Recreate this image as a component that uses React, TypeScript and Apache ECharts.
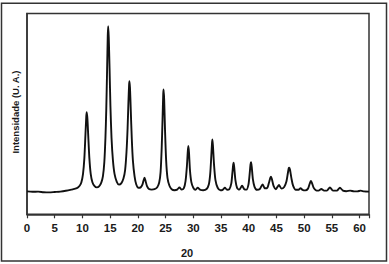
import React, { useEffect, useRef } from "react";
import * as echarts from "echarts";

const twoTheta = [
  0, 1, 2, 3, 4, 5, 6, 7, 8, 9, 9.5, 9.8, 10.1, 10.35, 10.55, 10.7, 10.78, 10.9, 11.05, 11.25, 11.5, 11.8,
  12.2, 12.6, 13.0, 13.4, 13.7, 13.95, 14.15, 14.3, 14.45, 14.57, 14.65, 14.75, 14.9, 15.05, 15.25, 15.5,
  15.8, 16.2, 16.6, 17.0, 17.4, 17.7, 17.95, 18.15, 18.3, 18.42, 18.48, 18.58, 18.72, 18.9, 19.1, 19.4,
  19.7, 20.1, 20.5, 20.8, 21.0, 21.2, 21.4, 21.65, 22.0, 22.5, 23.0, 23.5, 23.85, 24.1, 24.3, 24.45, 24.58,
  24.65, 24.75, 24.9, 25.1, 25.35, 25.7, 26.1, 26.6, 27.1, 27.5, 27.9, 28.3, 28.6, 28.85, 29.0, 29.1,
  29.22, 29.4, 29.65, 30.0, 30.4, 30.8, 31.2, 31.8, 32.4, 32.8, 33.05, 33.25, 33.38, 33.45, 33.55, 33.75,
  34.0, 34.4, 34.9, 35.3, 35.7, 36.1, 36.5, 36.85, 37.05, 37.2, 37.28, 37.4, 37.6, 37.9, 38.3, 38.8, 39.2,
  39.6, 39.95, 40.15, 40.32, 40.42, 40.55, 40.75, 41.05, 41.5, 42.0, 42.5, 42.9, 43.3, 43.65, 43.9, 44.02,
  44.2, 44.5, 44.9, 45.45, 45.9, 46.4, 46.8, 47.05, 47.22, 47.32, 47.45, 47.7, 48.0, 48.5, 49.0, 49.35,
  49.7, 50.2, 50.7, 51.0, 51.2, 51.4, 51.7, 52.1, 52.6, 53.1, 53.6, 54.1, 54.65, 55.2, 55.9, 56.45, 57.0,
  57.6, 58.3, 59.0, 59.6, 60.2, 60.8, 61.7,
];

const intensity = [
  11.4, 11.2, 11.3, 11.0, 10.9, 11.1, 11.3, 11.7, 12.3, 13.0, 14.2, 15.8, 20, 28, 40, 49, 50.9, 47.5, 39, 28, 20, 16,
  14, 13.4, 13.9, 15.8, 19, 26, 38, 52, 72, 89, 93.7, 88, 72, 54, 38, 27,
  20, 16.2, 14.8, 15.4, 17.8, 22, 31, 43, 56, 64.5, 66.3, 63, 52, 38, 27, 19,
  15, 13.2, 13.4, 14.6, 16.6, 18.2, 16.5, 14, 12.6, 12.3, 12.5, 13.5, 15.8, 21, 33, 47, 60,
  62.2, 57, 42, 27, 18, 14.2, 12.5, 12, 12.3, 13.4, 12.3, 13, 16.5, 24, 31, 34,
  31, 22, 16, 13.2, 12.2, 13.3, 12.3, 12, 12.6, 14.8, 20, 29, 35.5, 37.3, 34, 24.5,
  17, 13.2, 12, 12.2, 13.2, 12.2, 12.5, 15.3, 20.5, 24.8, 25.7, 23, 17, 13.2, 12.3, 14.2, 12.5,
  12.3, 14.8, 19.5, 24.8, 25.9, 23.5, 17.5, 13.7, 12.2, 12.6, 14.9, 13, 13, 15.7, 18.2, 18.7,
  17.3, 14, 12.5, 14.6, 12.8, 13.6, 16.3, 20.3, 22.9, 23.2, 22.2, 18, 14.3, 12.2, 12.2, 13,
  12.2, 11.9, 12.8, 15.2, 16.6, 15.7, 13.3, 12, 11.8, 12.6, 11.8, 11.8, 13.4, 11.8, 11.8, 13.2, 11.8,
  11.5, 11.8, 11.4, 11.4, 11.8, 11.4, 11.3,
];

const xTickStep = 5;
const xMax = 61.7;
const xTitle = "20";
const yTitle = "Intensidade (U. A.)";

export default function App() {
  const ref = useRef<HTMLDivElement>(null);
  useEffect(() => {
    if (!ref.current) return;
    const chart = echarts.init(ref.current, undefined, { renderer: "svg" });
    const data = twoTheta.map((x, i) => [x, intensity[i]]);
    chart.setOption({
      animation: false,
      backgroundColor: "#ffffff",
      grid: {
        left: 27,
        right: 20,
        top: 13.5,
        bottom: 49.7,
        show: true,
        borderColor: "#333",
        borderWidth: 1.5,
        backgroundColor: "transparent",
      },
      xAxis: {
        type: "value",
        min: 0,
        max: xMax,
        interval: xTickStep,
        splitLine: { show: false },
        axisLine: { show: true, lineStyle: { color: "#333", width: 1.5 } },
        axisTick: { show: true, length: 4, lineStyle: { color: "#333", width: 1.2 } },
        axisLabel: {
          margin: 8,
          color: "#1a1a1a",
          fontFamily: "Liberation Sans, Arial, sans-serif",
          fontWeight: "bold",
          fontSize: 11.5,
          formatter: (v: number) => (Math.abs(v % xTickStep) < 1e-6 ? String(v) : ""),
        },
      },
      yAxis: {
        type: "value",
        min: 0,
        max: 100,
        splitLine: { show: false },
        axisLine: { show: true, lineStyle: { color: "#333", width: 1.5 } },
        axisTick: { show: false },
        axisLabel: { show: false },
      },
      graphic: [
        {
          type: "rect",
          shape: { x: 1.5, y: 3.3, width: 385, height: 257.7 },
          style: { fill: "none", stroke: "#333", lineWidth: 1.5 },
          silent: true,
        },
        {
          type: "text",
          x: 187,
          y: 253,
          style: {
            text: xTitle,
            fill: "#1a1a1a",
            font: "bold 11px 'Liberation Sans', Arial, sans-serif",
            align: "center",
            verticalAlign: "middle",
          },
        },
        {
          type: "text",
          x: 15,
          y: 112,
          rotation: Math.PI / 2,
          style: {
            text: yTitle,
            fill: "#1a1a1a",
            font: "bold 9.5px 'Liberation Sans', Arial, sans-serif",
            align: "center",
            verticalAlign: "middle",
          },
        },
      ],
      series: [
        {
          type: "line",
          data,
          showSymbol: false,
          smooth: 0.25,
          lineStyle: { color: "#111", width: 1.9 },
        },
      ],
    });
    return () => chart.dispose();
  }, []);
  return (
    <div
      ref={ref}
      style={{ position: "absolute", left: 0, top: 0, width: 389, height: 264 }}
    />
  );
}
